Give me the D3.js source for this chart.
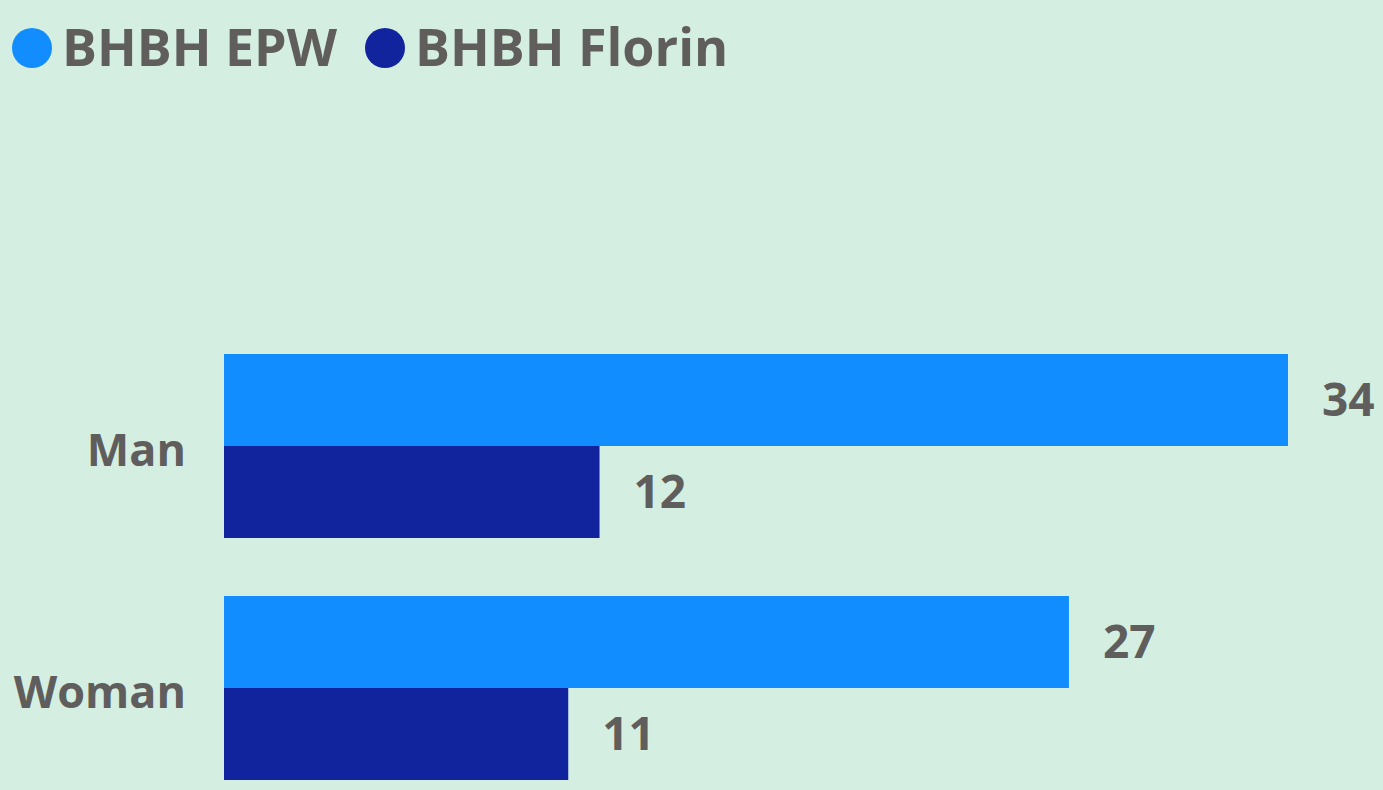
<!DOCTYPE html>
<html><head><meta charset="utf-8">
<script src="https://cdn.jsdelivr.net/npm/d3@7"></script>
<style>html,body{margin:0;padding:0;background:#d4efe1;}svg{display:block;}</style>
</head><body>
<script>
const categories = ["Man", "Woman"];
const seriesNames = ["BHBH EPW", "BHBH Florin"];
const epwValues = [34, 27];
const florinValues = [12, 11];
const seriesColors = ["#118dff", "#12239e"];

const W = 1383, H = 790;
const font = "'Open Sans', 'Segoe UI', sans-serif";
const textColor = "#605e5c";

const svg = d3.select("body").append("svg").attr("width", W).attr("height", H);
svg.append("rect").attr("width", W).attr("height", H).attr("fill", "#d4efe1");

const x = d3.scaleLinear().domain([0, 34]).range([224, 1288]);
const y = d3.scaleBand().domain(categories).range([325, 809]).paddingInner(58/242).paddingOuter(29/242);
const ySub = d3.scaleBand().domain(seriesNames).range([0, y.bandwidth()]);

const data = categories.map((c, i) => ({cat: c, vals: [epwValues[i], florinValues[i]]}));

const g = svg.selectAll("g.cat").data(data).enter().append("g")
  .attr("transform", d => `translate(0,${y(d.cat)})`);

g.selectAll("rect").data(d => d.vals.map((v, j) => ({v, s: seriesNames[j], j})))
  .enter().append("rect")
  .attr("x", x(0)).attr("y", d => ySub(d.s))
  .attr("width", d => x(d.v) - x(0)).attr("height", ySub.bandwidth())
  .attr("fill", d => seriesColors[d.j]);

g.selectAll("text.val").data(d => d.vals.map((v, j) => ({v, s: seriesNames[j]})))
  .enter().append("text").attr("class", "val")
  .attr("x", d => x(d.v) + 34).attr("y", d => ySub(d.s) + ySub.bandwidth()/2)
  .attr("dy", "0.35em")
  .attr("font-family", font).attr("font-weight", 700).attr("font-size", 46)
  .attr("fill", textColor).text(d => d.v);

// category axis labels
svg.append("g").selectAll("text").data(categories).enter().append("text")
  .attr("x", 186).attr("y", d => y(d) + y.bandwidth()/2 + 4)
  .attr("dy", "0.35em").attr("text-anchor", "end")
  .attr("font-family", font).attr("font-weight", 700).attr("font-size", 45)
  .attr("fill", textColor).text(d => d);

// legend
const legendX = [32, 385];
const lg = svg.append("g").selectAll("g").data(seriesNames).enter().append("g")
  .attr("transform", (d, i) => `translate(${legendX[i]},48)`);
lg.append("circle").attr("r", 20).attr("fill", (d, i) => seriesColors[i]);
lg.append("text").attr("x", 30).attr("dy", "0.35em")
  .attr("font-family", font).attr("font-weight", 700).attr("font-size", 52)
  .attr("fill", textColor).text(d => d);
</script>
</body></html>
